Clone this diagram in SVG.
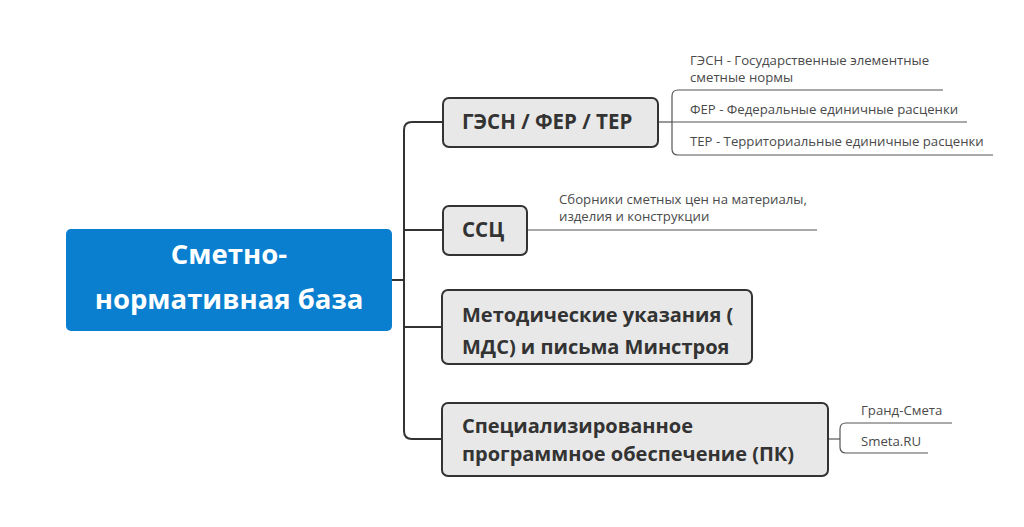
<svg xmlns="http://www.w3.org/2000/svg" width="1024" height="527" viewBox="0 0 1024 527">
<style>
.bg{fill:#ffffff}
.main rect{fill:#0a7fcf}
.main text{fill:#ffffff;font-family:"Open Sans","Noto Sans",sans-serif;font-weight:700;font-size:27.5px;text-anchor:middle}
.topic rect{fill:#e8e8e8;stroke:#333333;stroke-width:2}
.topic text{fill:#333333;font-family:"Open Sans","Noto Sans",sans-serif;font-weight:700;font-size:20px}
.sub text{fill:#4a4a4a;font-family:"Open Sans","Noto Sans",sans-serif;font-size:13.2px}
.c{fill:none;stroke:#333333;stroke-width:2}
.s{fill:none;stroke:#555555;stroke-width:1.2}
</style>
<rect class="bg" x="0" y="0" width="1024" height="527"/>
<g id="connectors">
  <path class="c" d="M392 280 H404"/>
  <path class="c" d="M443 122 H412 Q404 122 404 130 V431 Q404 439 412 439 H442"/>
  <path class="c" d="M404 230 H443"/>
  <path class="c" d="M404 327 H442"/>
  <path class="s" d="M658 122 H672"/>
  <path class="s" d="M943 90 H678 Q672 90 672 96 V149 Q672 155 678 155 H993"/>
  <path class="s" d="M672 122 H967"/>
  <path class="s" d="M527 230 H817"/>
  <path class="s" d="M828 439 H840"/>
  <path class="s" d="M952 423 H846 Q840 423 840 429 V447 Q840 453 846 453 H928"/>
</g>
<g id="n0" class="main">
  <rect x="66" y="229" width="326" height="102" rx="5"/>
  <text x="229" y="264">Сметно-</text>
  <text x="229" y="309">нормативная база</text>
</g>
<g id="n1" class="topic">
  <rect x="443" y="98" width="215" height="49" rx="6"/>
  <text x="462" y="129" style="font-size:20.5px">ГЭСН / ФЕР / ТЕР</text>
</g>
<g id="n2" class="topic">
  <rect x="443" y="206" width="84" height="49" rx="6"/>
  <text x="462" y="237" style="font-size:20.5px">ССЦ</text>
</g>
<g id="n3" class="topic">
  <rect x="442" y="290" width="310" height="74" rx="6"/>
  <text x="462" y="322">Методические указания (</text>
  <text x="462" y="354">МДС) и письма Минстроя</text>
</g>
<g id="n4" class="topic">
  <rect x="442" y="403" width="386" height="73" rx="6"/>
  <text x="462" y="433">Специализированное</text>
  <text x="462" y="461">программное обеспечение (ПК)</text>
</g>
<g id="n1a" class="sub"><text x="690" y="65">ГЭСН - Государственные элементные</text><text x="690" y="82">сметные нормы</text></g>
<g id="n1b" class="sub"><text x="690" y="114">ФЕР - Федеральные единичные расценки</text></g>
<g id="n1c" class="sub"><text x="690" y="146">ТЕР - Территориальные единичные расценки</text></g>
<g id="n2a" class="sub"><text x="559" y="204">Сборники сметных цен на материалы,</text><text x="559" y="221">изделия и конструкции</text></g>
<g id="n4a" class="sub"><text x="861" y="415">Гранд-Смета</text></g>
<g id="n4b" class="sub"><text x="861" y="446">Smeta.RU</text></g>
</svg>
